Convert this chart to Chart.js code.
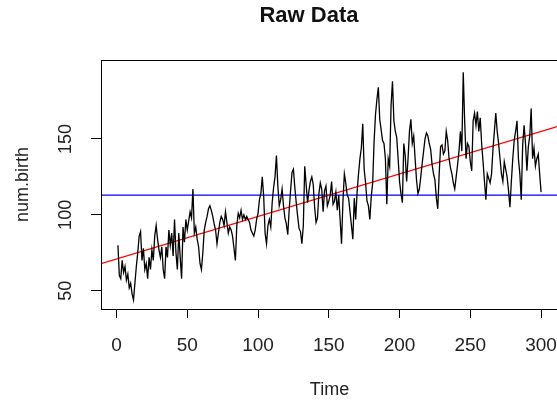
<!DOCTYPE html>
<html>
<head>
<meta charset="utf-8">
<script src="https://cdn.jsdelivr.net/npm/chart.js@4.4.1/dist/chart.umd.min.js"></script>
<style>
  html, body { margin: 0; padding: 0; background: #fff; overflow: hidden; }
  #wrap { position: relative; width: 560px; height: 402px; }
</style>
</head>
<body>
<div id="wrap"><canvas id="rawChart" width="560" height="402"></canvas></div>
<script>
// series num.birth, Time = 1..300
const numBirth = [
  80, 60, 58, 70, 62, 66, 57, 61, 52, 55, 48, 44, 55, 66, 75, 86, 89, 70, 78, 64,
  68, 58, 72, 64, 77, 70, 86, 93, 84, 77, 72, 79, 64, 58, 79, 72, 90,
  80, 88, 73, 97, 75, 64, 88, 72, 58, 92, 82, 97, 90, 96, 102, 98, 117, 88, 92, 84, 79, 68, 64,
  75, 90, 95, 99, 104, 106, 103, 99, 94, 90, 81, 88, 95, 99, 97, 93,
  102, 95, 88, 92, 90, 86, 78, 70, 93, 101, 98, 103, 97, 100, 97, 99,
  97, 95, 90, 88, 86, 90, 97, 101, 110, 114, 125, 112, 88, 81, 93, 97, 92, 108, 118, 125, 139, 119, 106,
  110, 117, 106, 98, 94, 87, 103, 116, 128, 130, 118, 108, 99, 91, 89, 81, 93, 132, 120, 108,
  116, 122, 125, 120, 105, 95, 98, 114, 121, 117, 102, 116, 119, 106, 109, 113, 122, 107,
  109, 115, 103, 113, 97, 81, 109, 127, 121, 113, 111, 102, 93, 84, 111, 97, 115, 127, 137, 144,
  160, 130, 121, 109, 106, 97, 112, 121, 148, 166, 176, 184, 163, 156, 149, 147, 137, 107, 137, 132,
  172, 188, 162, 155, 151, 137, 122, 114, 108, 147, 139, 122, 137, 155, 163, 147, 152, 137, 123, 114,
  117, 125, 134, 142, 150, 154, 152, 147, 143, 133, 127, 123, 111, 104, 127, 145, 146, 140, 142,
  155, 149, 137, 131, 127, 121, 117, 125, 133, 142, 155, 142, 194, 162, 137, 147, 145, 135, 129, 162,
  167, 159, 168, 155, 164, 147, 135, 122, 110, 127, 124, 121, 127, 143, 155, 167, 155, 147,
  137, 127, 122, 135, 130, 125, 116, 105, 122, 137, 149, 155, 162, 137, 127, 110, 146, 159, 147, 129,
  145, 152, 170, 137, 144, 132, 137, 140, 127, 115
];
const time = numBirth.map((v, i) => i + 1);
const xTicks = [0, 50, 100, 150, 200, 250, 300];
const yTicks = [50, 100, 150];
const xRange = [-10.96, 311.96];
const yRange = [38, 202];

// moyenne et droite de regression (lm)
const n = numBirth.length;
const meanT = time.reduce((a, b) => a + b, 0) / n;
const meanY = numBirth.reduce((a, b) => a + b, 0) / n;
let sxy = 0, sxx = 0;
for (let i = 0; i < n; i++) {
  sxy += (time[i] - meanT) * (numBirth[i] - meanY);
  sxx += (time[i] - meanT) * (time[i] - meanT);
}
const slope = sxy / sxx;
const intercept = meanY - slope * meanT;

const FONT = 'Liberation Sans, Arial, sans-serif';
const TXT = '#222';

// titre, etiquettes de l'axe y (tournees comme dans R) et cadre
const rStyle = {
  id: 'rStyle',
  afterDraw(chart) {
    const { ctx, chartArea: a, scales } = chart;
    ctx.save();
    ctx.strokeStyle = '#000';
    ctx.lineWidth = 1;
    ctx.strokeRect(Math.round(a.left) + 0.5, Math.round(a.top) + 0.5,
      Math.round(a.right - a.left), Math.round(a.bottom - a.top));

    ctx.fillStyle = '#111';
    ctx.textAlign = 'center';
    ctx.textBaseline = 'middle';
    ctx.font = 'bold 22px ' + FONT;
    ctx.fillText('Raw Data', 309, 16);

    ctx.fillStyle = TXT;
    ctx.font = '18px ' + FONT;
    yTicks.forEach(v => {
      const y = scales.y.getPixelForValue(v);
      ctx.save();
      ctx.translate(66, y);
      ctx.rotate(-Math.PI / 2);
      ctx.fillText(String(v), 0, 0);
      ctx.restore();
    });

    ctx.save();
    ctx.translate(23, (a.top + a.bottom) / 2);
    ctx.rotate(-Math.PI / 2);
    ctx.fillText('num.birth', 0, 0);
    ctx.restore();

    ctx.fillText('Time', (a.left + a.right) / 2, 390);
    ctx.restore();
  }
};

new Chart(document.getElementById('rawChart'), {
  type: 'line',
  data: {
    datasets: [
      {
        data: time.map((t, i) => ({ x: t, y: numBirth[i] })),
        borderColor: '#000',
        borderWidth: 1.3,
        pointRadius: 0,
        tension: 0
      },
      {
        data: xRange.map(x => ({ x: x, y: intercept + slope * x })),
        borderColor: '#ff0000',
        borderWidth: 1.3,
        pointRadius: 0
      },
      {
        data: xRange.map(x => ({ x: x, y: meanY })),
        borderColor: '#0000ff',
        borderWidth: 1.3,
        pointRadius: 0
      }
    ]
  },
  options: {
    responsive: false,
    animation: false,
    layout: { padding: { left: 0, right: 2, top: 60, bottom: 0 } },
    plugins: {
      legend: { display: false },
      tooltip: { enabled: false }
    },
    scales: {
      x: {
        type: 'linear',
        min: xRange[0],
        max: xRange[1],
        afterBuildTicks: s => { s.ticks = xTicks.map(v => ({ value: v })); },
        afterFit: s => { s.height = 93; s.paddingLeft = 0; s.paddingRight = 0; },
        grid: { drawOnChartArea: false, drawTicks: true, tickLength: 9, color: '#000', tickColor: '#000' },
        border: { display: false },
        ticks: {
          color: TXT,
          font: { family: FONT, size: 19 },
          padding: 16,
          minRotation: 0,
          maxRotation: 0
        }
      },
      y: {
        type: 'linear',
        min: yRange[0],
        max: yRange[1],
        afterBuildTicks: s => { s.ticks = yTicks.map(v => ({ value: v })); },
        afterFit: s => { s.width = 101; s.paddingTop = 0; s.paddingBottom = 0; },
        grid: { drawOnChartArea: false, drawTicks: true, tickLength: 10, color: '#000', tickColor: '#000' },
        border: { display: false },
        ticks: { display: false }
      }
    }
  },
  plugins: [rStyle]
});
</script>
</body>
</html>
